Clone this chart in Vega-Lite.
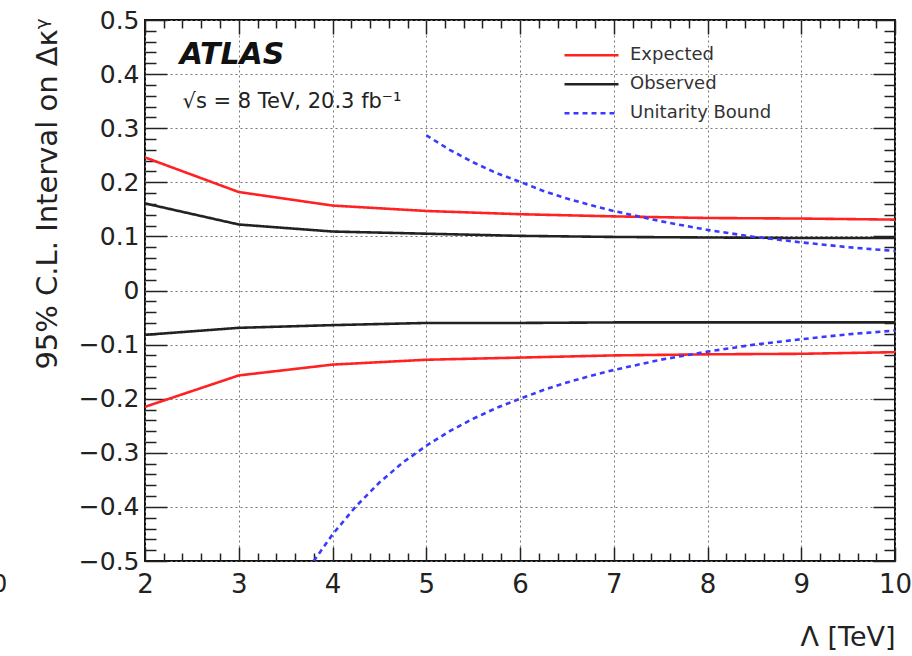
{
  "$schema": "https://vega.github.io/schema/vega-lite/v6.json",
  "width": 750,
  "height": 541,
  "autosize": {"type": "none"},
  "padding": {"left": 145, "top": 20, "right": 17, "bottom": 95},
  "background": "white",
  "config": {
    "font": "DejaVu Sans",
    "view": {"stroke": "#111", "strokeWidth": 2}
  },
  "datasets": {
    "curves": [
      {"lam": 2, "val": 0.246, "series": "Expected", "branch": "up"},
      {"lam": 3, "val": 0.182, "series": "Expected", "branch": "up"},
      {"lam": 4, "val": 0.157, "series": "Expected", "branch": "up"},
      {"lam": 5, "val": 0.147, "series": "Expected", "branch": "up"},
      {"lam": 6, "val": 0.141, "series": "Expected", "branch": "up"},
      {"lam": 7, "val": 0.137, "series": "Expected", "branch": "up"},
      {"lam": 8, "val": 0.134, "series": "Expected", "branch": "up"},
      {"lam": 9, "val": 0.133, "series": "Expected", "branch": "up"},
      {"lam": 10, "val": 0.131, "series": "Expected", "branch": "up"},
      {"lam": 2, "val": -0.215, "series": "Expected", "branch": "low"},
      {"lam": 3, "val": -0.157, "series": "Expected", "branch": "low"},
      {"lam": 4, "val": -0.137, "series": "Expected", "branch": "low"},
      {"lam": 5, "val": -0.128, "series": "Expected", "branch": "low"},
      {"lam": 6, "val": -0.124, "series": "Expected", "branch": "low"},
      {"lam": 7, "val": -0.120, "series": "Expected", "branch": "low"},
      {"lam": 8, "val": -0.118, "series": "Expected", "branch": "low"},
      {"lam": 9, "val": -0.117, "series": "Expected", "branch": "low"},
      {"lam": 10, "val": -0.114, "series": "Expected", "branch": "low"},
      {"lam": 2, "val": 0.161, "series": "Observed", "branch": "up"},
      {"lam": 3, "val": 0.122, "series": "Observed", "branch": "up"},
      {"lam": 4, "val": 0.109, "series": "Observed", "branch": "up"},
      {"lam": 5, "val": 0.105, "series": "Observed", "branch": "up"},
      {"lam": 6, "val": 0.101, "series": "Observed", "branch": "up"},
      {"lam": 7, "val": 0.099, "series": "Observed", "branch": "up"},
      {"lam": 8, "val": 0.098, "series": "Observed", "branch": "up"},
      {"lam": 9, "val": 0.097, "series": "Observed", "branch": "up"},
      {"lam": 10, "val": 0.097, "series": "Observed", "branch": "up"},
      {"lam": 2, "val": -0.082, "series": "Observed", "branch": "low"},
      {"lam": 3, "val": -0.069, "series": "Observed", "branch": "low"},
      {"lam": 4, "val": -0.064, "series": "Observed", "branch": "low"},
      {"lam": 5, "val": -0.060, "series": "Observed", "branch": "low"},
      {"lam": 6, "val": -0.060, "series": "Observed", "branch": "low"},
      {"lam": 7, "val": -0.059, "series": "Observed", "branch": "low"},
      {"lam": 8, "val": -0.059, "series": "Observed", "branch": "low"},
      {"lam": 9, "val": -0.059, "series": "Observed", "branch": "low"},
      {"lam": 10, "val": -0.059, "series": "Observed", "branch": "low"},
      {"lam": 5, "val": 0.287, "series": "Unitarity Bound", "branch": "up"},
      {"lam": 5.25, "val": 0.260, "series": "Unitarity Bound", "branch": "up"},
      {"lam": 5.5, "val": 0.237, "series": "Unitarity Bound", "branch": "up"},
      {"lam": 5.75, "val": 0.217, "series": "Unitarity Bound", "branch": "up"},
      {"lam": 6, "val": 0.201, "series": "Unitarity Bound", "branch": "up"},
      {"lam": 6.25, "val": 0.184, "series": "Unitarity Bound", "branch": "up"},
      {"lam": 6.5, "val": 0.170, "series": "Unitarity Bound", "branch": "up"},
      {"lam": 6.75, "val": 0.158, "series": "Unitarity Bound", "branch": "up"},
      {"lam": 7, "val": 0.147, "series": "Unitarity Bound", "branch": "up"},
      {"lam": 7.5, "val": 0.128, "series": "Unitarity Bound", "branch": "up"},
      {"lam": 8, "val": 0.112, "series": "Unitarity Bound", "branch": "up"},
      {"lam": 8.5, "val": 0.099, "series": "Unitarity Bound", "branch": "up"},
      {"lam": 9, "val": 0.089, "series": "Unitarity Bound", "branch": "up"},
      {"lam": 9.5, "val": 0.080, "series": "Unitarity Bound", "branch": "up"},
      {"lam": 10, "val": 0.073, "series": "Unitarity Bound", "branch": "up"},
      {"lam": 3.8, "val": -0.5, "series": "Unitarity Bound", "branch": "low"},
      {"lam": 4, "val": -0.451, "series": "Unitarity Bound", "branch": "low"},
      {"lam": 4.25, "val": -0.399, "series": "Unitarity Bound", "branch": "low"},
      {"lam": 4.5, "val": -0.355, "series": "Unitarity Bound", "branch": "low"},
      {"lam": 4.75, "val": -0.318, "series": "Unitarity Bound", "branch": "low"},
      {"lam": 5, "val": -0.287, "series": "Unitarity Bound", "branch": "low"},
      {"lam": 5.25, "val": -0.260, "series": "Unitarity Bound", "branch": "low"},
      {"lam": 5.5, "val": -0.237, "series": "Unitarity Bound", "branch": "low"},
      {"lam": 5.75, "val": -0.217, "series": "Unitarity Bound", "branch": "low"},
      {"lam": 6, "val": -0.200, "series": "Unitarity Bound", "branch": "low"},
      {"lam": 6.25, "val": -0.184, "series": "Unitarity Bound", "branch": "low"},
      {"lam": 6.5, "val": -0.170, "series": "Unitarity Bound", "branch": "low"},
      {"lam": 6.75, "val": -0.158, "series": "Unitarity Bound", "branch": "low"},
      {"lam": 7, "val": -0.147, "series": "Unitarity Bound", "branch": "low"},
      {"lam": 7.5, "val": -0.128, "series": "Unitarity Bound", "branch": "low"},
      {"lam": 8, "val": -0.113, "series": "Unitarity Bound", "branch": "low"},
      {"lam": 8.5, "val": -0.100, "series": "Unitarity Bound", "branch": "low"},
      {"lam": 9, "val": -0.090, "series": "Unitarity Bound", "branch": "low"},
      {"lam": 9.5, "val": -0.081, "series": "Unitarity Bound", "branch": "low"},
      {"lam": 10, "val": -0.074, "series": "Unitarity Bound", "branch": "low"}
    ],
    "atlas": [
      {"lam": 2.37, "val": 0.418, "text": "ATLAS"}
    ],
    "energy": [
      {"lam": 2.40, "val": 0.337, "text": "√s = 8 TeV, 20.3 fb⁻¹", "anchor": "left", "fs": "21"},
      {"lam": 0.45, "val": -0.557, "text": "0", "anchor": "center", "fs": "24"}
    ]
  },
  "resolve": {"axis": {"x": "independent", "y": "independent"}},
  "layer": [
    {
      "data": {"name": "curves"},
      "mark": {"type": "line", "strokeWidth": 2.6, "clip": true},
      "encoding": {
        "x": {
          "field": "lam", "type": "quantitative",
          "scale": {"domain": [2, 10], "nice": false, "zero": false},
          "axis": {
            "orient": "bottom",
            "title": "Λ [TeV]",
            "titleFont": "DejaVu Sans", "titleFontSize": 27, "titleFontWeight": "normal", "titleColor": "#222",
            "titleAnchor": "end", "titleAlign": "right", "titleBaseline": "alphabetic",
            "titleX": 750, "titleY": 84, "titleAngle": 0,
            "values": [2,2.2,2.4,2.6,2.8,3,3.2,3.4,3.6,3.8,4,4.2,4.4,4.6,4.8,5,5.2,5.4,5.6,5.8,6,6.2,6.4,6.6,6.8,7,7.2,7.4,7.6,7.8,8,8.2,8.4,8.6,8.8,9,9.2,9.4,9.6,9.8,10],
            "labelExpr": "abs(datum.value - round(datum.value)) < 0.001 ? format(datum.value, 'd') : ''",
            "labelFontSize": 26, "labelColor": "#222", "labelPadding": 24, "labelFlush": false, "labelOverlap": false,
            "domain": false,
            "ticks": true, "tickColor": "#222", "tickWidth": 1.5,
            "tickSize": {"condition": {"test": "abs(datum.value - round(datum.value)) < 0.001", "value": -14}, "value": -8},
            "grid": true, "gridColor": "#777", "gridDash": [2, 3], "gridWidth": 1,
            "gridOpacity": {"condition": {"test": "abs(datum.value - round(datum.value)) < 0.001", "value": 1}, "value": 0}
          }
        },
        "y": {
          "field": "val", "type": "quantitative",
          "scale": {"domain": [-0.5, 0.5], "nice": false, "zero": false},
          "axis": {
            "orient": "left",
            "title": "95% C.L. Interval on Δκᵞ",
            "titleFont": "DejaVu Sans", "titleFontSize": 29, "titleFontWeight": "normal", "titleColor": "#222",
            "titleAngle": -90, "titleAnchor": "end", "titleAlign": "right", "titleBaseline": "alphabetic",
            "titleX": -89, "titleY": -2,
            "values": [-0.5,-0.48,-0.46,-0.44,-0.42,-0.4,-0.38,-0.36,-0.34,-0.32,-0.3,-0.28,-0.26,-0.24,-0.22,-0.2,-0.18,-0.16,-0.14,-0.12,-0.1,-0.08,-0.06,-0.04,-0.02,0,0.02,0.04,0.06,0.08,0.1,0.12,0.14,0.16,0.18,0.2,0.22,0.24,0.26,0.28,0.3,0.32,0.34,0.36,0.38,0.4,0.42,0.44,0.46,0.48,0.5],
            "labelExpr": "abs(datum.value*10 - round(datum.value*10)) < 0.001 ? (abs(datum.value) < 0.001 ? '0' : (datum.value < 0 ? '−' + format(-datum.value, '.1f') : format(datum.value, '.1f'))) : ''",
            "labelFontSize": 25, "labelColor": "#222", "labelPadding": 28, "labelFlush": false, "labelOverlap": false,
            "domain": false,
            "ticks": true, "tickColor": "#222", "tickWidth": 1.5,
            "tickSize": {"condition": {"test": "abs(datum.value*10 - round(datum.value*10)) < 0.001", "value": -22}, "value": -11},
            "grid": true, "gridColor": "#777", "gridDash": [2, 3], "gridWidth": 1,
            "gridOpacity": {"condition": {"test": "abs(datum.value*10 - round(datum.value*10)) < 0.001", "value": 1}, "value": 0}
          }
        },
        "detail": {"field": "branch"},
        "color": {
          "field": "series", "type": "nominal",
          "scale": {"domain": ["Expected", "Observed", "Unitarity Bound"], "range": ["#ff2222", "#222222", "#3a3aff"]},
          "legend": {
            "title": null, "orient": "none", "legendX": 418, "legendY": 21,
            "symbolType": "stroke", "symbolSize": 2916, "symbolStrokeWidth": 2.6,
            "clipHeight": 28.5, "rowPadding": 0, "labelOffset": 10,
            "labelFont": "DejaVu Sans", "labelFontSize": 18, "labelColor": "#333", "labelLimit": 300
          }
        },
        "strokeDash": {
          "field": "series", "type": "nominal",
          "scale": {"domain": ["Expected", "Observed", "Unitarity Bound"], "range": [[1, 0], [1, 0], [5, 4]]},
          "legend": null
        }
      }
    },
    {
      "data": {"name": "atlas"},
      "mark": {"type": "text", "align": "left", "baseline": "alphabetic", "color": "#111", "fontSize": 30, "fontWeight": "bold", "fontStyle": "italic"},
      "encoding": {
        "x": {
          "field": "lam", "type": "quantitative",
          "axis": {
            "orient": "top", "title": null, "labels": false, "domain": false, "grid": false,
            "values": [2,2.2,2.4,2.6,2.8,3,3.2,3.4,3.6,3.8,4,4.2,4.4,4.6,4.8,5,5.2,5.4,5.6,5.8,6,6.2,6.4,6.6,6.8,7,7.2,7.4,7.6,7.8,8,8.2,8.4,8.6,8.8,9,9.2,9.4,9.6,9.8,10],
            "tickColor": "#222", "tickWidth": 1.5,
            "tickSize": {"condition": {"test": "abs(datum.value - round(datum.value)) < 0.001", "value": -14}, "value": -8}
          }
        },
        "y": {
          "field": "val", "type": "quantitative",
          "axis": {
            "orient": "right", "title": null, "labels": false, "domain": false, "grid": false,
            "values": [-0.5,-0.48,-0.46,-0.44,-0.42,-0.4,-0.38,-0.36,-0.34,-0.32,-0.3,-0.28,-0.26,-0.24,-0.22,-0.2,-0.18,-0.16,-0.14,-0.12,-0.1,-0.08,-0.06,-0.04,-0.02,0,0.02,0.04,0.06,0.08,0.1,0.12,0.14,0.16,0.18,0.2,0.22,0.24,0.26,0.28,0.3,0.32,0.34,0.36,0.38,0.4,0.42,0.44,0.46,0.48,0.5],
            "tickColor": "#222", "tickWidth": 1.5,
            "tickSize": {"condition": {"test": "abs(datum.value*10 - round(datum.value*10)) < 0.001", "value": -22}, "value": -11}
          }
        },
        "text": {"field": "text"}
      }
    },
    {
      "data": {"name": "energy"},
      "transform": [{"filter": "datum.anchor === 'left'"}],
      "mark": {"type": "text", "align": "left", "baseline": "alphabetic", "color": "#222", "fontSize": 21},
      "encoding": {
        "x": {"field": "lam", "type": "quantitative", "axis": null},
        "y": {"field": "val", "type": "quantitative", "axis": null},
        "text": {"field": "text"}
      }
    },
    {
      "data": {"name": "energy"},
      "transform": [{"filter": "datum.anchor === 'center'"}],
      "mark": {"type": "text", "align": "center", "baseline": "alphabetic", "color": "#222", "fontSize": 24},
      "encoding": {
        "x": {"field": "lam", "type": "quantitative", "axis": null},
        "y": {"field": "val", "type": "quantitative", "axis": null},
        "text": {"field": "text"}
      }
    }
  ]
}
